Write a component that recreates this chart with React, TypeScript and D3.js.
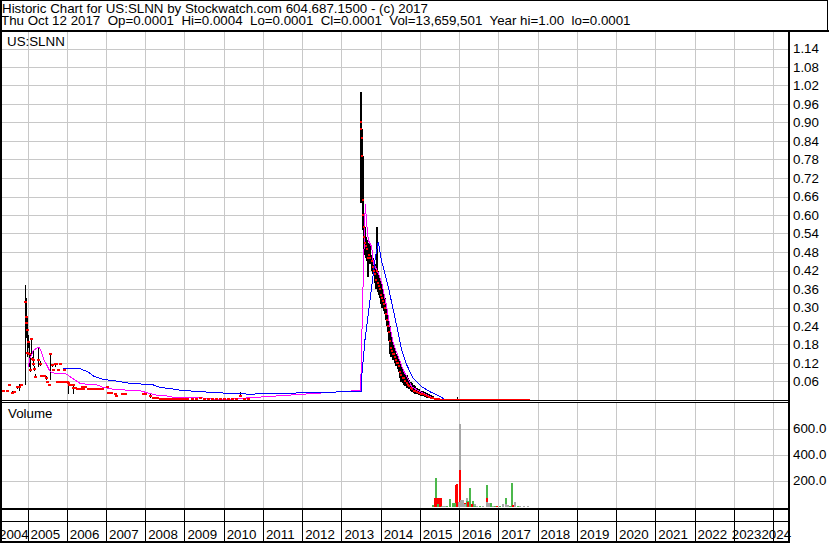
import React from 'react';
import * as d3 from 'd3';

const headerLine1 = 'Historic Chart for US:SLNN by Stockwatch.com 604.687.1500 - (c) 2017';
const headerLine2 = 'Thu Oct 12 2017  Op=0.0001  Hi=0.0004  Lo=0.0001  Cl=0.0001  Vol=13,659,501  Year hi=1.00  lo=0.0001';
const symbolLabel = 'US:SLNN';
const volumeLabel = 'Volume';

const yearLabels = ['2004', '2005', '2006', '2007', '2008', '2009', '2010', '2011', '2012', '2013', '2014',
  '2015', '2016', '2017', '2018', '2019', '2020', '2021', '2022', '2023', '2024'];
const priceTicks = [0.06, 0.12, 0.18, 0.24, 0.30, 0.36, 0.42, 0.48, 0.54, 0.60, 0.66, 0.72, 0.78, 0.84, 0.90, 0.96, 1.02, 1.08, 1.14];
const volumeTicks = [200, 400, 600];

// [time (decimal year), high, low, close]
const bars2004: [number, number, number, number][] = [
  [2004.383, 0.032, 0.028, 0.030], [2004.470, 0.031, 0.029, 0.030], [2004.529, 0.052, 0.045, 0.050],
  [2004.597, 0.030, 0.020, 0.022], [2004.656, 0.028, 0.022, 0.025], [2004.745, 0.046, 0.035, 0.041],
  [2004.783, 0.051, 0.030, 0.041], [2004.827, 0.052, 0.045, 0.049], [2004.944, 0.373, 0.049, 0.319],
  [2004.954, 0.330, 0.240, 0.270], [2004.964, 0.290, 0.200, 0.250], [2004.975, 0.270, 0.195, 0.227],
  [2004.985, 0.230, 0.140, 0.151], [2005.013, 0.210, 0.170, 0.189], [2005.046, 0.189, 0.108, 0.149],
  [2005.069, 0.150, 0.090, 0.097], [2005.089, 0.200, 0.150, 0.198], [2005.115, 0.140, 0.125, 0.132],
  [2005.133, 0.125, 0.110, 0.117], [2005.148, 0.162, 0.117, 0.130], [2005.173, 0.110, 0.095, 0.100],
  [2005.199, 0.085, 0.070, 0.075], [2005.275, 0.169, 0.107, 0.130], [2005.319, 0.125, 0.110, 0.117],
  [2005.352, 0.082, 0.075, 0.078], [2005.387, 0.082, 0.075, 0.078], [2005.420, 0.082, 0.075, 0.078],
  [2005.464, 0.078, 0.065, 0.072], [2005.489, 0.063, 0.056, 0.059], [2005.548, 0.052, 0.046, 0.049],
  [2005.573, 0.152, 0.065, 0.149], [2005.617, 0.118, 0.108, 0.113], [2005.642, 0.100, 0.094, 0.097],
  [2005.701, 0.120, 0.107, 0.117], [2005.726, 0.120, 0.113, 0.117], [2005.752, 0.062, 0.055, 0.058],
  [2005.785, 0.100, 0.094, 0.097], [2005.815, 0.062, 0.055, 0.058], [2005.836, 0.120, 0.113, 0.117],
  [2005.866, 0.062, 0.055, 0.058], [2005.905, 0.062, 0.055, 0.058], [2005.930, 0.100, 0.094, 0.097],
  [2005.968, 0.062, 0.055, 0.058], [2006.007, 0.062, 0.055, 0.058], [2006.040, 0.058, 0.020, 0.055],
  [2006.065, 0.052, 0.046, 0.049], [2006.109, 0.052, 0.046, 0.049], [2006.152, 0.049, 0.020, 0.040],
  [2006.167, 0.052, 0.046, 0.049], [2006.198, 0.040, 0.036, 0.038], [2006.249, 0.038, 0.033, 0.035],
  [2006.300, 0.038, 0.033, 0.035], [2006.338, 0.038, 0.033, 0.035], [2006.381, 0.046, 0.040, 0.043],
  [2006.427, 0.038, 0.033, 0.035], [2006.465, 0.044, 0.039, 0.041], [2006.542, 0.038, 0.033, 0.035],
  [2006.593, 0.038, 0.033, 0.035], [2006.644, 0.038, 0.033, 0.035], [2006.695, 0.038, 0.033, 0.035],
  [2006.771, 0.038, 0.033, 0.035], [2006.822, 0.038, 0.033, 0.035], [2006.899, 0.038, 0.033, 0.035],
  [2007.018, 0.046, 0.038, 0.041], [2007.059, 0.027, 0.022, 0.024], [2007.128, 0.027, 0.022, 0.024],
  [2007.230, 0.022, 0.010, 0.019], [2007.255, 0.016, 0.012, 0.014], [2007.401, 0.021, 0.017, 0.019],
  [2007.485, 0.021, 0.017, 0.019], [2007.943, 0.022, 0.018, 0.020], [2007.994, 0.022, 0.018, 0.020],
  [2008.122, 0.018, 0.006, 0.012], [2008.198, 0.010, 0.006, 0.008], [2008.249, 0.010, 0.004, 0.007],
  [2008.300, 0.008, 0.003, 0.005], [2008.377, 0.003, 0.001, 0.002], [2008.453, 0.003, 0.001, 0.002],
  [2008.530, 0.003, 0.001, 0.002], [2008.606, 0.003, 0.001, 0.002], [2008.682, 0.003, 0.001, 0.002],
  [2008.759, 0.003, 0.001, 0.002], [2008.835, 0.003, 0.001, 0.002], [2008.912, 0.003, 0.001, 0.002],
  [2008.988, 0.003, 0.001, 0.002], [2009.065, 0.003, 0.001, 0.002], [2009.192, 0.003, 0.001, 0.002],
  [2009.294, 0.003, 0.001, 0.002], [2009.396, 0.006, 0.003, 0.005], [2009.498, 0.004, 0.002, 0.003],
  [2009.600, 0.004, 0.002, 0.003], [2009.702, 0.004, 0.002, 0.003], [2009.804, 0.003, 0.001, 0.002],
  [2009.906, 0.004, 0.002, 0.003], [2010.008, 0.004, 0.002, 0.003], [2010.110, 0.004, 0.002, 0.003],
  [2010.212, 0.004, 0.002, 0.003], [2010.314, 0.005, 0.002, 0.004], [2010.416, 0.027, 0.011, 0.013],
  [2010.517, 0.005, 0.002, 0.004], [2010.627, 0.005, 0.002, 0.004],
];

const bars2013: [number, number, number, number][] = [
  [2013.499, 1.00, 0.64, 0.90], [2013.512, 0.90, 0.78, 0.88], [2013.525, 0.88, 0.66, 0.85],
  [2013.537, 0.85, 0.64, 0.79], [2013.550, 0.79, 0.62, 0.65], [2013.563, 0.64, 0.55, 0.60],
  [2013.576, 0.60, 0.52, 0.56], [2013.588, 0.57, 0.48, 0.53], [2013.601, 0.56, 0.47, 0.51],
  [2013.627, 0.53, 0.46, 0.50], [2013.652, 0.52, 0.45, 0.49], [2013.685, 0.50, 0.40, 0.46],
  [2013.716, 0.51, 0.45, 0.47], [2013.741, 0.50, 0.44, 0.46], [2013.772, 0.47, 0.42, 0.45],
  [2013.797, 0.46, 0.41, 0.43], [2013.830, 0.45, 0.41, 0.42], [2013.863, 0.44, 0.38, 0.41],
  [2013.894, 0.42, 0.36, 0.39], [2013.915, 0.56, 0.40, 0.42], [2013.940, 0.42, 0.35, 0.38],
  [2013.965, 0.40, 0.34, 0.37], [2013.991, 0.39, 0.33, 0.36], [2014.016, 0.38, 0.31, 0.34],
  [2014.042, 0.36, 0.30, 0.33], [2014.067, 0.35, 0.30, 0.32], [2014.093, 0.34, 0.29, 0.31],
  [2014.118, 0.33, 0.28, 0.30], [2014.149, 0.31, 0.26, 0.28], [2014.174, 0.29, 0.24, 0.26],
  [2014.200, 0.27, 0.22, 0.24], [2014.225, 0.25, 0.19, 0.22], [2014.251, 0.24, 0.15, 0.19],
  [2014.276, 0.22, 0.14, 0.17], [2014.302, 0.19, 0.14, 0.16], [2014.327, 0.18, 0.13, 0.15],
  [2014.353, 0.17, 0.13, 0.15], [2014.378, 0.16, 0.12, 0.14], [2014.404, 0.15, 0.11, 0.13],
  [2014.429, 0.15, 0.11, 0.12], [2014.455, 0.14, 0.10, 0.12], [2014.480, 0.13, 0.09, 0.11],
  [2014.505, 0.12, 0.07, 0.09], [2014.531, 0.11, 0.06, 0.08], [2014.562, 0.10, 0.055, 0.07],
  [2014.595, 0.09, 0.05, 0.07], [2014.628, 0.085, 0.045, 0.06], [2014.664, 0.08, 0.04, 0.055],
  [2014.697, 0.07, 0.04, 0.05], [2014.735, 0.065, 0.035, 0.045], [2014.773, 0.06, 0.03, 0.04],
  [2014.811, 0.055, 0.025, 0.035], [2014.850, 0.05, 0.022, 0.03], [2014.888, 0.045, 0.02, 0.028],
  [2014.926, 0.04, 0.018, 0.025], [2014.977, 0.035, 0.016, 0.022], [2015.028, 0.03, 0.014, 0.02],
  [2015.079, 0.028, 0.012, 0.018], [2015.130, 0.025, 0.01, 0.015], [2015.181, 0.022, 0.008, 0.012],
  [2015.232, 0.018, 0.006, 0.01], [2015.283, 0.015, 0.004, 0.008], [2015.334, 0.012, 0.003, 0.006],
  [2015.385, 0.008, 0.002, 0.004], [2015.436, 0.006, 0.001, 0.003], [2015.487, 0.004, 0.001, 0.002],
];

const bars2015: [number, number, number, number][] = [
  [2015.53, 0.003, 0.0001, 0.0015], [2015.59, 0.003, 0.0001, 0.0015], [2015.66, 0.003, 0.0001, 0.0015],
  [2015.72, 0.003, 0.0001, 0.0015], [2015.78, 0.003, 0.0001, 0.0015], [2015.85, 0.003, 0.0001, 0.0015],
  [2015.91, 0.003, 0.0001, 0.0015], [2015.94, 0.011, 0.0001, 0.0015], [2015.97, 0.003, 0.0001, 0.0015],
  [2016.04, 0.003, 0.0001, 0.0015], [2016.10, 0.003, 0.0001, 0.0015], [2016.17, 0.003, 0.0001, 0.0015],
  [2016.23, 0.003, 0.0001, 0.0015], [2016.29, 0.003, 0.0001, 0.0015], [2016.36, 0.003, 0.0001, 0.0015],
  [2016.42, 0.003, 0.0001, 0.0015], [2016.48, 0.003, 0.0001, 0.0015], [2016.55, 0.003, 0.0001, 0.0015],
  [2016.61, 0.003, 0.0001, 0.0015], [2016.68, 0.003, 0.0001, 0.0015], [2016.74, 0.003, 0.0001, 0.0015],
  [2016.80, 0.003, 0.0001, 0.0015], [2016.87, 0.003, 0.0001, 0.0015], [2016.93, 0.003, 0.0001, 0.0015],
  [2016.99, 0.003, 0.0001, 0.0015], [2017.06, 0.003, 0.0001, 0.0015], [2017.12, 0.003, 0.0001, 0.0015],
  [2017.19, 0.003, 0.0001, 0.0015], [2017.25, 0.003, 0.0001, 0.0015], [2017.31, 0.003, 0.0001, 0.0015],
  [2017.38, 0.003, 0.0001, 0.0015], [2017.44, 0.003, 0.0001, 0.0015], [2017.50, 0.003, 0.0001, 0.0015],
  [2017.57, 0.003, 0.0001, 0.0015], [2017.63, 0.003, 0.0001, 0.0015], [2017.70, 0.003, 0.0001, 0.0015],
  [2017.76, 0.003, 0.0001, 0.0015],
];

// moving averages [time, value]
const maShort: [number, number][] = [
  [2005.020, 0.108], [2005.064, 0.135], [2005.148, 0.160], [2005.234, 0.168], [2005.301, 0.171],
  [2005.336, 0.162], [2005.403, 0.135], [2005.489, 0.114], [2005.556, 0.097], [2005.617, 0.089],
  [2005.701, 0.087], [2005.912, 0.087], [2005.999, 0.084], [2006.083, 0.076], [2006.210, 0.065],
  [2006.338, 0.054], [2006.509, 0.051], [2006.764, 0.049], [2006.932, 0.041], [2007.187, 0.035],
  [2007.528, 0.032], [2007.867, 0.030], [2008.038, 0.024], [2008.293, 0.016], [2008.547, 0.013],
  [2008.716, 0.009], [2009.396, 0.0075], [2009.735, 0.003], [2010.245, 0.003], [2010.586, 0.0065],
  [2013.346, 0.030], [2013.491, 0.030], [2013.517, 0.184], [2013.558, 0.405], [2013.609, 0.636],
  [2013.644, 0.574], [2013.685, 0.519], [2013.772, 0.497], [2013.812, 0.444], [2013.940, 0.412],
  [2014.027, 0.380], [2014.154, 0.303], [2014.238, 0.238], [2014.322, 0.184], [2014.450, 0.140],
  [2014.577, 0.097], [2014.664, 0.076], [2014.791, 0.043], [2015.003, 0.027], [2015.257, 0.011],
  [2015.428, 0.002], [2017.806, 0.001],
];

const maLong: [number, number][] = [
  [2005.912, 0.103], [2006.338, 0.103], [2006.422, 0.097], [2006.542, 0.091], [2006.677, 0.078],
  [2006.932, 0.067], [2007.230, 0.062], [2007.612, 0.054], [2007.994, 0.051], [2008.206, 0.049],
  [2008.377, 0.041], [2008.632, 0.037], [2008.886, 0.032], [2009.396, 0.027], [2010.076, 0.022],
  [2010.670, 0.019], [2013.517, 0.028], [2013.518, 0.076], [2013.601, 0.195], [2013.685, 0.280],
  [2013.772, 0.367], [2013.856, 0.454], [2013.940, 0.513], [2014.027, 0.449], [2014.111, 0.410],
  [2014.195, 0.367], [2014.322, 0.292], [2014.450, 0.216], [2014.536, 0.162], [2014.664, 0.114],
  [2014.832, 0.070], [2015.046, 0.043], [2015.257, 0.027], [2015.512, 0.011], [2015.640, 0.002],
  [2017.806, 0.001],
];

// volume [time, volume]
const volUp: [number, number][] = [
  [2015.342, 13], [2015.410, 220], [2015.474, 20], [2015.556, 10], [2015.691, 5], [2015.767, 59],
  [2015.851, 28], [2015.894, 28], [2016.200, 46], [2016.233, 46], [2016.277, 149], [2016.361, 46],
  [2016.404, 10], [2016.532, 10], [2016.702, 167], [2016.804, 28], [2016.914, 8], [2017.041, 10],
  [2017.194, 67], [2017.296, 10], [2017.339, 182], [2017.493, 10],
];
const volDown: [number, number][] = [
  [2015.385, 72], [2015.428, 72], [2015.454, 72], [2015.495, 72], [2015.530, 72], [2015.920, 167],
  [2015.953, 174], [2016.022, 282], [2016.149, 30], [2016.233, 40], [2016.320, 20], [2016.702, 67],
  [2016.965, 6], [2017.365, 13], [2017.551, 5],
];
const volFlat: [number, number][] = [
  [2015.589, 8], [2015.640, 8], [2015.990, 40], [2016.022, 636], [2016.060, 55], [2016.098, 50],
  [2016.149, 20], [2016.200, 70], [2016.404, 20], [2016.455, 8], [2016.608, 5], [2016.702, 36],
  [2016.728, 30], [2016.761, 28], [2016.863, 8], [2017.118, 20], [2017.194, 25], [2017.245, 15],
  [2017.424, 36], [2017.551, 5], [2017.653, 5], [2017.747, 5],
];

const W = 830;
const H = 543;
const FONT = "'Liberation Sans', Arial, Helvetica, sans-serif";
const FS = 13.33;

export default function App() {
  const plotL = 2;
  const plotR = 788;
  const headerB = 31;
  const priceB = 400;
  const volT = 403;
  const volB = 508;
  const stripMid = 521.5;
  const axisB = 541.5;

  const x = d3.scaleLinear().domain([2005, 2024]).range([27.5, 773]);
  const yP = d3.scaleLinear().domain([0, 1.14]).range([priceB, 48.5]);
  const yV = d3.scaleLinear().domain([0, 600]).range([507, 428.5]);
  const px = (v: number) => Math.round(v) + 0.5;

  const lineGen = d3.line<[number, number]>().x(d => x(d[0])).y(d => yP(d[1]));

  const segments = [
    { data: bars2004, barW: 1, closeW: 3, closeH: 2 },
    { data: bars2013, barW: 2, closeW: 2, closeH: 2 },
    { data: bars2015, barW: 1, closeW: 3, closeH: 2 },
  ];

  const years = yearLabels.map(s => +s);
  const labelW = 29.6;
  const labelX: number[] = years.map(yr => Math.max(-1, Math.min(x(yr) + 3, 791 - labelW)));
  for (let i = labelX.length - 2; i >= 0; i--) {
    if (labelX[i] + labelW > labelX[i + 1]) labelX[i] = labelX[i + 1] - labelW;
  }

  const volAll = [
    ...volUp.map(d => ({ t: d[0], v: d[1], c: '#4cb84c' })),
    ...volDown.map(d => ({ t: d[0], v: d[1], c: '#ff0000' })),
    ...volFlat.map(d => ({ t: d[0], v: d[1], c: '#a8a8a8' })),
  ].sort((a, b) => b.v - a.v);

  return (
    <svg width={W} height={H} viewBox={`0 0 ${W} ${H}`}
      style={{ position: 'absolute', left: 0, top: 0, background: '#fff', display: 'block' }}
      fontFamily={FONT} fontSize={FS}>
      <defs>
        <clipPath id="pclip"><rect x={plotL} y={headerB + 1} width={plotR - plotL} height={priceB - headerB - 1} /></clipPath>
        <clipPath id="vclip"><rect x={plotL} y={volT} width={plotR - plotL} height={volB - volT} /></clipPath>
      </defs>
      <rect x={0} y={0} width={W} height={H} fill="#fff" />

      {/* gridlines */}
      <g stroke="#c8c8c8" strokeWidth={1} shapeRendering="crispEdges">
        {years.map(yr => {
          const gx = px(x(yr));
          if (gx < plotL || gx > plotR) return null;
          return (
            <g key={'g' + yr}>
              <line x1={gx} x2={gx} y1={headerB + 1} y2={priceB} />
              <line x1={gx} x2={gx} y1={volT} y2={volB} />
            </g>
          );
        })}
        {priceTicks.map(v => (
          <line key={'hp' + v} x1={plotL} x2={plotR} y1={px(yP(v))} y2={px(yP(v))} />
        ))}
        {volumeTicks.map(v => (
          <line key={'hv' + v} x1={plotL} x2={plotR} y1={px(yV(v))} y2={px(yV(v))} />
        ))}
      </g>

      {/* price */}
      <g clipPath="url(#pclip)" shapeRendering="crispEdges">
        {segments.map((seg, si) => seg.data.map((d, i) => {
          const bx = seg.barW === 1 ? px(x(d[0])) : Math.round(x(d[0]));
          const y1 = yP(d[1]);
          let y2 = yP(d[2]);
          if (y2 - y1 < 1) y2 = y1 + 1;
          return <line key={'b' + si + '_' + i} x1={bx} x2={bx} y1={y1} y2={y2} stroke="#000" strokeWidth={seg.barW} />;
        }))}
        <path d={lineGen(maShort) || ''} fill="none" stroke="#ff00ff" strokeWidth={1} />
        <path d={lineGen(maLong) || ''} fill="none" stroke="#0000ff" strokeWidth={1} />
        {segments.map((seg, si) => seg.data.map((d, i) => (
          <rect key={'c' + si + '_' + i} x={Math.round(x(d[0])) - Math.floor(seg.closeW / 2)}
            y={Math.round(yP(d[3])) - 1.5} width={seg.closeW} height={seg.closeH} fill="#ff0000" />
        )))}
      </g>

      {/* volume */}
      <g clipPath="url(#vclip)" shapeRendering="crispEdges">
        {volAll.map((d, i) => (
          <rect key={'v' + i} x={Math.round(x(d.t)) - 1} y={yV(d.v)} width={2} height={yV(0) - yV(d.v)} fill={d.c} />
        ))}
      </g>

      {/* frame */}
      <g stroke="#000" shapeRendering="crispEdges" fill="none">
        <line x1={0} x2={828} y1={0.5} y2={0.5} strokeWidth={1} />
        <line x1={827.5} x2={827.5} y1={0} y2={headerB} strokeWidth={1} />
        <line x1={0} x2={829} y1={headerB} y2={headerB} strokeWidth={2} />
        <line x1={1} x2={1} y1={0} y2={axisB + 1} strokeWidth={2} />
        <line x1={plotR + 1} x2={plotR + 1} y1={headerB} y2={axisB + 1} strokeWidth={2} />
        <line x1={0} x2={plotR + 2} y1={priceB + 0.5} y2={priceB + 0.5} strokeWidth={1} />
        <line x1={0} x2={plotR + 2} y1={402.5} y2={402.5} strokeWidth={1} />
        <line x1={0} x2={plotR + 2} y1={volB + 1} y2={volB + 1} strokeWidth={2} />
        <line x1={0} x2={plotR + 2} y1={stripMid} y2={stripMid} strokeWidth={1} />
        <line x1={0} x2={plotR + 2} y1={axisB} y2={axisB} strokeWidth={2} />
        {years.map(yr => {
          const gx = px(x(yr));
          if (gx < plotL || gx > plotR) return null;
          return <line key={'s' + yr} x1={gx} x2={gx} y1={volB + 1} y2={axisB} strokeWidth={1} />;
        })}
      </g>

      {/* texts */}
      <g fill="#000">
        <text x={2} y={12.5} style={{ whiteSpace: 'pre' }} xmlSpace="preserve">{headerLine1}</text>
        <text x={1} y={25} style={{ whiteSpace: 'pre' }} xmlSpace="preserve">{headerLine2}</text>
        <text x={7} y={46}>{symbolLabel}</text>
        <text x={8} y={418}>{volumeLabel}</text>
        {priceTicks.map(v => (
          <text key={'pl' + v} x={793} y={yP(v) + 4.5}>{v.toFixed(2)}</text>
        ))}
        {volumeTicks.map(v => (
          <text key={'vl' + v} x={793} y={yV(v) + 4.5}>{v.toFixed(1)}</text>
        ))}
        {yearLabels.map((s, i) => (
          <text key={'yl' + s} x={labelX[i]} y={539}>{s}</text>
        ))}
      </g>
    </svg>
  );
}
